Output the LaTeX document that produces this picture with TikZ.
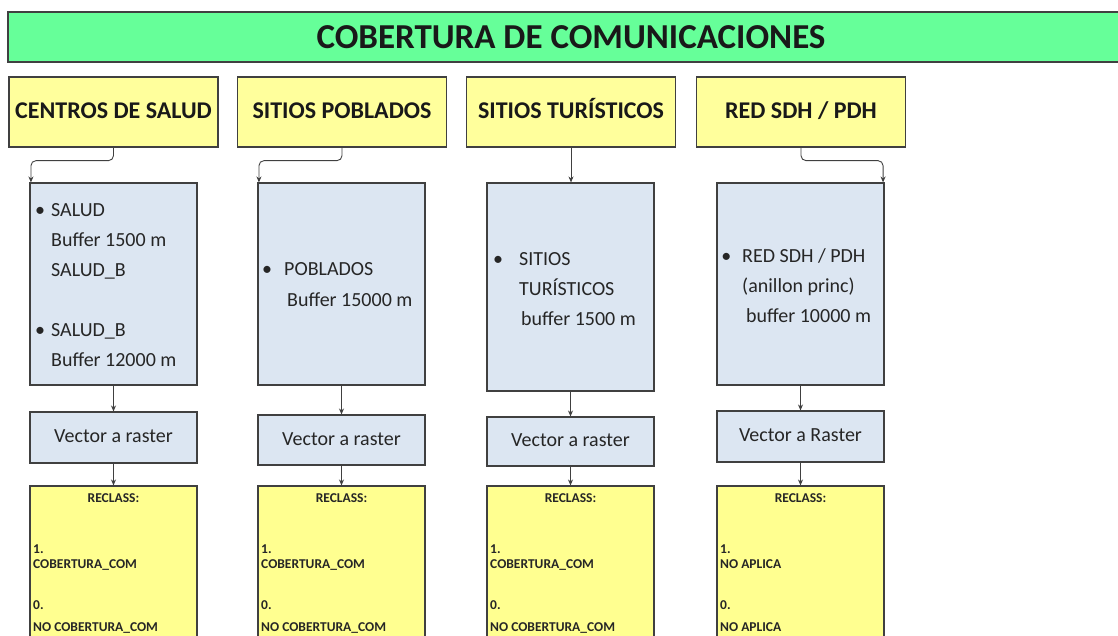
\documentclass[tikz,border=0pt]{standalone}
\usepackage{fontspec}
\setmainfont{Carlito}
\usetikzlibrary{arrows.meta}
\definecolor{titlegreen}{HTML}{66FF99}
\definecolor{headyellow}{HTML}{FFFF9C}
\definecolor{recyellow}{HTML}{FFFF90}
\definecolor{boxblue}{HTML}{DCE6F2}
\definecolor{edgegray}{HTML}{404040}
\definecolor{inkgray}{HTML}{262626}
\begin{document}
\begin{tikzpicture}[x=1pt,y=-1pt,
  titlebox/.style={draw=edgegray, line width=1.3pt, fill=titlegreen, inner sep=0pt,
    font=\bfseries\fontsize{35}{40}\selectfont, text=black!90},
  headbox/.style={draw=edgegray, line width=1.3pt, fill=headyellow, inner sep=0pt,
    minimum width=209pt, minimum height=70pt, text height=17pt, text depth=5pt,
    font=\bfseries\fontsize{24}{28}\selectfont, text=black!90},
  procbox/.style={draw=edgegray, line width=1.1pt, fill=boxblue, inner sep=0pt,
    minimum width=167pt},
  vecbox/.style={procbox, text height=14pt, text depth=4pt,
    font=\fontsize{20}{24}\selectfont, text=inkgray},
  recbox/.style={draw=edgegray, line width=1.1pt, fill=recyellow, inner sep=0pt,
    minimum width=167pt, minimum height=170pt},
  line/.style={anchor=base west, inner sep=0pt, font=\fontsize{20}{24}\selectfont, text=inkgray},
  recline/.style={anchor=base west, inner sep=0pt, font=\bfseries\fontsize{13.5}{15}\selectfont, text=black!85},
  conn/.style={draw=edgegray, line width=0.9pt, rounded corners=5pt,
    -{Stealth[length=6pt,width=5pt]}}
]
\useasboundingbox (0,0) rectangle (1118,635);
\clip (0,0) rectangle (1118,635);

% title
\node[titlebox, minimum width=1126pt, minimum height=50pt] (title) at (571,37) {COBERTURA DE COMUNICACIONES};

% headers
\node[headbox] (h1) at (113.5,112) {CENTROS DE SALUD};
\node[headbox] (h2) at (342,112) {SITIOS POBLADOS};
\node[headbox] (h3) at (571,112) {SITIOS TURÍSTICOS};
\node[headbox] (h4) at (801,112) {RED SDH / PDH};

% process boxes
\node[procbox, minimum height=202pt] (b1) at (113.5,284) {};
\node[procbox, minimum height=202pt] (b2) at (341.5,284) {};
\node[procbox, minimum height=208pt] (b3) at (570.5,287) {};
\node[procbox, minimum height=202pt] (b4) at (800.5,284) {};

% texts in process boxes
\node[line] (b1a) at (51,216) {\llap{\textbullet\hspace{6pt}}SALUD};
\node[line] (b1b) at (51,246) {Buffer 1500 m};
\node[line] (b1c) at (51,276) {SALUD\_B};
\node[line] (b1d) at (51,336) {\llap{\textbullet\hspace{6pt}}SALUD\_B};
\node[line] (b1e) at (51,366) {Buffer 12000 m};

\node[line] (b2a) at (284,275) {\llap{\textbullet\hspace{12pt}}POBLADOS};
\node[line] (b2b) at (287,306) {Buffer 15000 m};

\node[line] (b3a) at (519,265) {\llap{\textbullet\hspace{16pt}}SITIOS};
\node[line] (b3b) at (519,295) {TURÍSTICOS};
\node[line] (b3c) at (521,325) {buffer 1500 m};

\node[line] (b4a) at (742,262) {\llap{\textbullet\hspace{11pt}}RED SDH / PDH};
\node[line] (b4b) at (742,292) {(anillon princ)};
\node[line] (b4c) at (746,322) {buffer 10000 m};

% vector boxes
\node[vecbox, minimum height=51pt] (v1) at (113.5,437.5) {Vector a raster};
\node[vecbox, minimum height=50pt] (v2) at (341.5,440) {Vector a raster};
\node[vecbox, minimum height=49pt] (v3) at (570.5,441.5) {Vector a raster};
\node[vecbox, minimum height=51pt] (v4) at (800.5,436.5) {Vector a Raster};

% reclass boxes
\node[recbox] (r1) at (113.5,571) {};
\node[recbox] (r2) at (341.5,571) {};
\node[recbox] (r3) at (570.5,571) {};
\node[recbox] (r4) at (800.5,571) {};

\foreach \c/\x in {1/33, 2/261, 3/490, 4/720}{
  \node[recline, anchor=base] (rt\c) at (\x+80.5,502) {RECLASS:};
  \node[recline] (rn\c) at (\x,553) {1.};
  \node[recline] (rz\c) at (\x,609) {0.};
}
\node[recline] (ra1) at (33,568) {COBERTURA\_COM};
\node[recline] (rb1) at (33,631) {NO COBERTURA\_COM};
\node[recline] (ra2) at (261,568) {COBERTURA\_COM};
\node[recline] (rb2) at (261,631) {NO COBERTURA\_COM};
\node[recline] (ra3) at (490,568) {COBERTURA\_COM};
\node[recline] (rb3) at (490,631) {NO COBERTURA\_COM};
\node[recline] (ra4) at (720,568) {NO APLICA};
\node[recline] (rb4) at (720,631) {NO APLICA};

% connectors
\draw[conn] (h1.south) -- ++(0,13) -| ([xshift=1.5pt]b1.north west);
\draw[conn] (h2.south) -- ++(0,13) -| ([xshift=1.5pt]b2.north west);
\draw[conn] (h3.south) -- (h3.south |- b3.north);
\draw[conn] (h4.south) -- ++(0,13) -| ([xshift=-1.5pt]b4.north east);

\foreach \i in {1,2,3,4}{
  \draw[conn] (b\i.south) -- (v\i.north);
  \draw[conn] (v\i.south) -- (r\i.north);
}
\end{tikzpicture}
\end{document}
